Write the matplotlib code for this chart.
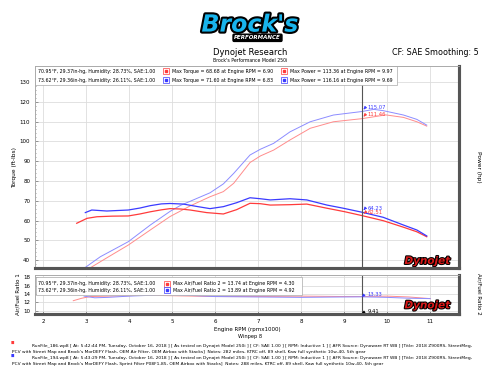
import numpy as np
import matplotlib.pyplot as plt
import matplotlib.patheffects as pe
from matplotlib.patches import Rectangle

# run 186 (red) and run 194 (blue), rpm x1000
rpm_tq_red = [2.78, 3.02, 3.25, 3.60, 3.98, 4.25, 4.49, 4.75, 4.95, 5.20, 5.42, 5.80, 6.19, 6.50, 6.81, 7.05, 7.28, 7.74, 8.13, 8.60, 9.00, 9.41, 9.91, 10.38, 10.69, 10.92]
tq_red = [58.6, 61.1, 61.9, 62.2, 62.3, 63.3, 64.4, 65.4, 66.0, 65.8, 65.3, 64.0, 63.3, 65.5, 68.7, 68.5, 67.8, 68.0, 68.3, 66.2, 64.5, 62.5, 59.9, 56.6, 54.3, 51.8]
rpm_tq_blue = [2.98, 3.13, 3.48, 3.98, 4.25, 4.49, 4.75, 4.95, 5.26, 5.60, 5.88, 6.19, 6.50, 6.81, 7.05, 7.28, 7.74, 8.13, 8.60, 8.98, 9.41, 9.91, 10.38, 10.69, 10.92]
tq_blue = [64.0, 65.3, 64.8, 65.3, 66.3, 67.5, 68.4, 68.6, 68.3, 67.0, 66.0, 67.0, 69.0, 71.5, 71.0, 70.4, 71.0, 70.4, 67.8, 66.2, 64.2, 61.6, 57.7, 55.2, 52.2]

rpm_hp_red = [2.78, 3.05, 3.50, 3.98, 4.49, 4.95, 5.42, 5.88, 6.19, 6.43, 6.81, 7.05, 7.36, 7.74, 8.21, 8.75, 9.41, 9.97, 10.38, 10.69, 10.92]
hp_red = [31.0, 35.5, 41.4, 47.6, 55.2, 62.0, 67.4, 72.0, 74.6, 78.8, 89.3, 92.6, 95.6, 100.7, 106.6, 109.9, 111.46, 113.36, 112.1, 109.9, 107.7]
rpm_hp_blue = [2.98, 3.33, 3.98, 4.49, 4.95, 5.19, 5.88, 6.19, 6.43, 6.81, 7.05, 7.36, 7.74, 8.21, 8.75, 9.41, 9.69, 9.91, 10.38, 10.69, 10.92]
hp_blue = [36.3, 41.7, 49.3, 57.7, 64.6, 67.6, 74.0, 78.5, 83.8, 93.1, 96.0, 99.0, 104.8, 109.9, 113.3, 115.07, 116.16, 115.5, 113.3, 111.1, 108.2]

rpm_afr_red = [2.70, 2.90, 3.10, 3.50, 4.00, 4.30, 5.00, 6.00, 7.00, 8.00, 9.00, 9.41, 10.00, 10.50, 11.00]
afr_red = [12.4, 13.0, 13.4, 13.5, 13.6, 13.74, 13.6, 13.4, 13.4, 13.5, 13.4, 13.4, 13.5, 13.3, 12.9]
rpm_afr_blue = [2.95, 3.20, 3.50, 4.00, 4.50, 4.92, 6.00, 7.00, 8.00, 9.00, 9.41, 10.00, 10.50, 11.00]
afr_blue = [13.5, 13.1, 13.2, 13.5, 13.7, 13.89, 13.4, 13.3, 13.2, 13.3, 13.33, 13.2, 13.0, 12.9]

cursor = 9.41
RED = '#ff3b3b'
BLUE = '#3b3bff'
RED_L = '#ff8c8c'
BLUE_L = '#8c8cff'

plt.rcParams['font.family'] = ['DejaVu Sans']
fig = plt.figure(figsize=(5, 3.78), dpi=100)

# header
t = fig.text(0.5, 0.935, "Brock's", ha='center', va='center', fontsize=17, fontweight='bold',
             style='italic', color='#18b4ec')
t.set_path_effects([pe.withStroke(linewidth=3, foreground='black')])
fig.text(0.515, 0.900, 'PERFORMANCE', ha='center', va='center', fontsize=4.0, fontweight='bold',
         style='italic', color='white',
         bbox=dict(boxstyle='round,pad=0.2', fc='black', ec='black'))
fig.text(0.5, 0.862, 'Dynojet Research', ha='center', va='center', fontsize=6)
fig.text(0.5, 0.840, "Brock's Performance Model 250i", ha='center', va='center', fontsize=3.3)
fig.text(0.958, 0.862, 'CF: SAE Smoothing: 5', ha='right', va='center', fontsize=5.8)

ax = fig.add_axes([0.07, 0.291, 0.848, 0.534])
ax2 = fig.add_axes([0.07, 0.1693, 0.848, 0.1045])

ax.plot(rpm_hp_red, hp_red, color=RED_L, lw=0.7)
ax.plot(rpm_hp_blue, hp_blue, color=BLUE_L, lw=0.7)
ax.plot(rpm_tq_red, tq_red, color=RED, lw=0.9)
ax.plot(rpm_tq_blue, tq_blue, color=BLUE, lw=0.9)
ax.set_xlim(1.81, 11.67)
ax.set_ylim(36, 138)
ax.set_yticks(np.arange(40, 131, 10))
ax.set_yticks(np.arange(36, 139, 2), minor=True)
ax.set_xticks(np.arange(2, 12, 1))
ax.set_xticklabels([])
ax.grid(True, color='#dddddd', lw=0.6)
ax.tick_params(axis='both', which='both', direction='in', labelsize=4, length=2, width=0.4,
               colors='#555555', labelcolor='black', right=True, labelright=True, bottom=False)
ax.tick_params(which='minor', length=1)
ax.set_ylabel('Torque (ft-lbs)', fontsize=4.2, labelpad=2)
axr = ax.twinx()
axr.set_ylim(ax.get_ylim())
axr.set_yticks([])
axr.set_ylabel('Power (hp)', fontsize=4.2, rotation=270, labelpad=16)

ax2.plot(rpm_afr_red, afr_red, color=RED_L, lw=0.7)
ax2.plot(rpm_afr_blue, afr_blue, color=BLUE_L, lw=0.7)
ax2.set_xlim(ax.get_xlim())
ax2.set_ylim(9.2, 18.7)
ax2.set_yticks([10, 12, 14, 16, 18])
ax2.set_xticks(np.arange(2, 12, 1))
ax2.grid(True, color='#dddddd', lw=0.6)
ax2.tick_params(axis='both', direction='in', labelsize=4, length=2, width=0.4,
                colors='#555555', labelcolor='black', right=True, labelright=True)
ax2.set_ylabel('Air/Fuel Ratio 1', fontsize=4, labelpad=2)
ax2r = ax2.twinx()
ax2r.set_ylim(ax2.get_ylim())
ax2r.set_yticks([])
ax2r.set_ylabel('Air/Fuel Ratio 2', fontsize=4, rotation=270, labelpad=16)

for a in (ax, ax2, axr, ax2r):
    a.spines['left'].set_color('#aaaaaa')
    a.spines['top'].set_color('#aaaaaa')
    a.spines['left'].set_linewidth(0.6)
    a.spines['top'].set_linewidth(0.6)
    a.spines['right'].set_color('#555555')
    a.spines['bottom'].set_color('#555555')
    a.spines['right'].set_linewidth(2.2)
    a.spines['bottom'].set_linewidth(2.2)

# cursor
for a in (ax, ax2):
    a.axvline(cursor, color='#555555', lw=0.8)


def cursor_mark(a, y, color, label, dy):
    a.annotate('', xy=(cursor, y), xytext=(cursor + 0.1, y + dy),
               arrowprops=dict(arrowstyle='-|>', color=color, lw=0.6, mutation_scale=4))
    a.text(cursor + 0.14, y + dy * 0.8, label, color=color, fontsize=3.8, va='center')


cursor_mark(ax, np.interp(cursor, rpm_hp_blue, hp_blue), BLUE, '115.07', 2.5)
cursor_mark(ax, np.interp(cursor, rpm_hp_red, hp_red), RED, '111.46', 2.5)
cursor_mark(ax, np.interp(cursor, rpm_tq_blue, tq_blue), BLUE, '64.23', 2.5)
cursor_mark(ax, np.interp(cursor, rpm_tq_red, tq_red), RED, '62.51', 2.0)
cursor_mark(ax2, np.interp(cursor, rpm_afr_blue, afr_blue), BLUE, '13.33', 0.8)
cursor_mark(ax2, 9.3, 'black', '9.41', 0.6)

ax2.set_xlabel('Engine RPM (rpmx1000)', fontsize=4, labelpad=2)
fig.text(0.5, 0.111, 'Winpep 8', ha='center', va='center', fontsize=3.6)

# legends inside plots
env = ['70.95°F, 29.37in-hg, Humidity: 28.73%, SAE:1.00',
       '73.62°F, 29.36in-hg, Humidity: 26.11%, SAE:1.00']
max_tq = ['Max Torque = 68.68 at Engine RPM = 6.90', 'Max Torque = 71.60 at Engine RPM = 6.83']
max_hp = ['Max Power = 113.36 at Engine RPM = 9.97', 'Max Power = 116.16 at Engine RPM = 9.69']
max_afr = ['Max Air/Fuel Ratio 2 = 13.74 at Engine RPM = 4.30',
           'Max Air/Fuel Ratio 2 = 13.89 at Engine RPM = 4.92']
colors = [RED, BLUE]


def icon(a, x, y, c):
    a.plot([x], [y], marker='s', ms=5, mfc='white', mec=c, mew=0.5, transform=a.transAxes,
           clip_on=False, zorder=7)
    a.plot([x], [y], marker='s', ms=1.6, mfc=c, mec=c, transform=a.transAxes, clip_on=False,
           zorder=8)


ax.add_patch(Rectangle((0.001, 0.905), 0.853, 0.094, transform=ax.transAxes, fc='white',
                       ec='#aaaaaa', lw=0.5, zorder=5))
for i, yy in enumerate([0.975, 0.931]):
    ax.text(0.008, yy, env[i], transform=ax.transAxes, fontsize=3.4, va='center', zorder=6)
    icon(ax, 0.309, yy, colors[i])
    ax.text(0.324, yy, max_tq[i], transform=ax.transAxes, fontsize=3.4, va='center', zorder=6)
    icon(ax, 0.587, yy, colors[i])
    ax.text(0.602, yy, max_hp[i], transform=ax.transAxes, fontsize=3.4, va='center', zorder=6)

ax2.add_patch(Rectangle((0.003, 0.48), 0.627, 0.457, transform=ax2.transAxes, fc='white',
                        ec='#aaaaaa', lw=0.5, zorder=5))
for i, yy in enumerate([0.77, 0.60]):
    ax2.text(0.008, yy, env[i], transform=ax2.transAxes, fontsize=3.4, va='center', zorder=6)
    icon(ax2, 0.311, yy, colors[i])
    ax2.text(0.325, yy, max_afr[i], transform=ax2.transAxes, fontsize=3.4, va='center', zorder=6)

# dynojet marks
for a, yy in ((ax, 0.035), (ax2, 0.22)):
    d = a.text(0.925, yy, 'Dynojet', transform=a.transAxes, ha='center', va='center',
               fontsize=7.5, fontweight='bold', style='italic', color='#d81818', zorder=6)
    d.set_path_effects([pe.withStroke(linewidth=1.5, foreground='black')])

# run file notes
notes = [
    ('RunFile_186.wp8 [ At: 5:42:44 PM, Tuesday, October 16, 2018 ] [ As tested on Dynojet Model 250i ] '
     '[ CF: SAE 1.00 ] [ RPM: Inductive 1 ] [ AFR Source: Dynoware RT WB ] [Title: 2018 Z900RS, StreetMeg,',
     "PCV with Street Map and Brock's MorDEFY Flash, OEM Air Filter, OEM Airbox with Stacks]  "
     "Notes: 282 miles, KTRC off, 89 shell, Kaw full synthetic 10w-40, 5th gear"),
    ('RunFile_194.wp8 [ At: 5:43:29 PM, Tuesday, October 16, 2018 ] [ As tested on Dynojet Model 250i ] '
     '[ CF: SAE 1.00 ] [ RPM: Inductive 1 ] [ AFR Source: Dynoware RT WB ] [Title: 2018 Z900RS, StreetMeg,',
     "PCV with Street Map and Brock's MorDEFY Flash, Sprint Filter P08F1-85, OEM Airbox with Stacks]  "
     "Notes: 288 miles, KTRC off, 89 shell, Kaw full synthetic 10w-40, 5th gear"),
]
for i, (l1, l2) in enumerate(notes):
    y0 = 0.0855 - i * 0.0335
    fig.text(0.024, y0 + 0.006, '\u25a0', color=colors[i], fontsize=2.6, va='center', ha='center')
    fig.text(0.064, y0, l1, fontsize=3.2, va='center')
    fig.text(0.024, y0 - 0.016, l2, fontsize=3.2, va='center')

fig.savefig('out.png', dpi=100)
